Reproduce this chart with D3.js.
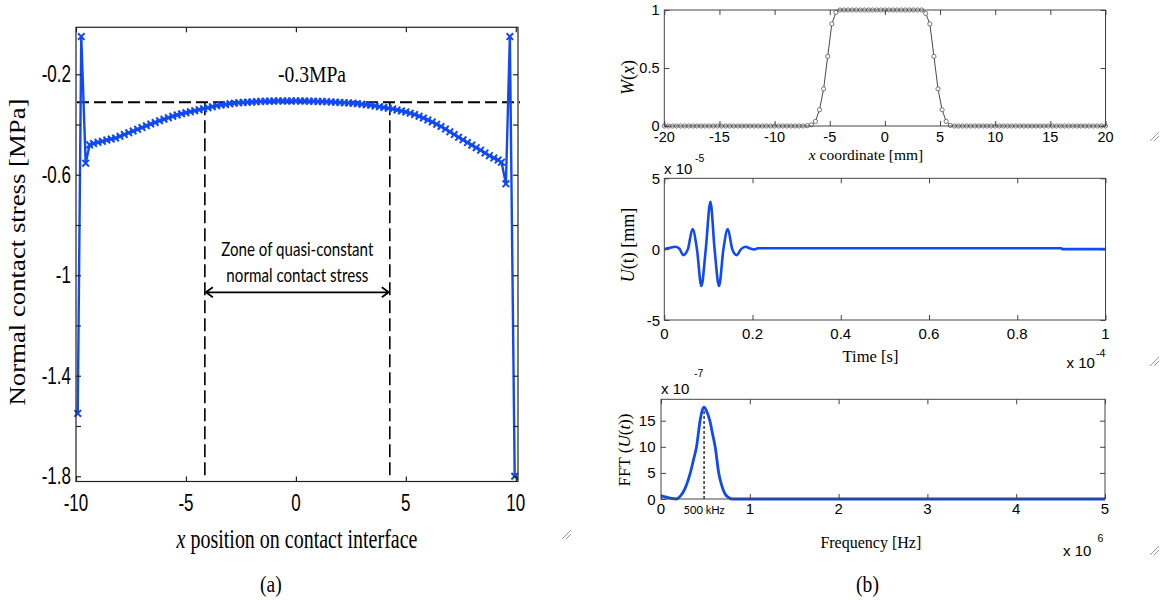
<!DOCTYPE html>
<html>
<head>
<meta charset="utf-8">
<script src="https://cdn.jsdelivr.net/npm/d3@7"></script>
<style>
  body { margin: 0; background: #fff; }
  svg { display: block; }
</style>
</head>
<body>
<svg id="fig" width="1163" height="600"></svg>
<script>
// ---------- (a) normal contact stress along the interface ----------
const stressX = [-9.92, -9.76, -9.56, -9.38,
  -9.2, -9.0, -8.8, -8.6, -8.4, -8.2, -8.0, -7.8, -7.6, -7.4, -7.2, -7.0, -6.8, -6.6, -6.4, -6.2,
  -6.0, -5.8, -5.6, -5.4, -5.2, -5.0, -4.8, -4.6, -4.4, -4.2, -4.0, -3.8, -3.6, -3.4, -3.2, -3.0,
  -2.8, -2.6, -2.4, -2.2, -2.0, -1.8, -1.6, -1.4, -1.2, -1.0, -0.8, -0.6, -0.4, -0.2, 0.0, 0.2,
  0.4, 0.6, 0.8, 1.0, 1.2, 1.4, 1.6, 1.8, 2.0, 2.2, 2.4, 2.6, 2.8, 3.0, 3.2, 3.4, 3.6, 3.8,
  4.0, 4.2, 4.4, 4.6, 4.8, 5.0, 5.2, 5.4, 5.6, 5.8, 6.0, 6.2, 6.4, 6.6, 6.8, 7.0, 7.2, 7.4,
  7.6, 7.8, 8.0, 8.2, 8.4, 8.6, 8.8, 9.0, 9.2, 9.35, 9.55, 9.73, 9.95];
const stressY = [-1.55, -0.05, -0.554, -0.481,
  -0.476, -0.471, -0.467, -0.462, -0.458, -0.454, -0.447, -0.440, -0.433, -0.426, -0.419, -0.412, -0.405, -0.398, -0.392, -0.385,
  -0.379, -0.373, -0.367, -0.362, -0.357, -0.353, -0.349, -0.345, -0.341, -0.337, -0.333, -0.329, -0.325, -0.322, -0.320, -0.317,
  -0.315, -0.313, -0.312, -0.311, -0.310, -0.309, -0.308, -0.307, -0.307, -0.306, -0.306, -0.306, -0.306, -0.306, -0.306, -0.306,
  -0.306, -0.307, -0.307, -0.308, -0.308, -0.309, -0.310, -0.311, -0.312, -0.313, -0.314, -0.315, -0.317, -0.319, -0.321, -0.323, -0.326, -0.329,
  -0.332, -0.335, -0.338, -0.342, -0.346, -0.350, -0.355, -0.360, -0.367, -0.374, -0.382, -0.390, -0.399, -0.408, -0.418, -0.429, -0.440, -0.451,
  -0.461, -0.472, -0.482, -0.492, -0.502, -0.513, -0.524, -0.533, -0.541, -0.550, -0.636, -0.05, -1.80];
const plateauStress = -0.311;
const zoneBounds = [-4.14, 4.27];
const stressXTicks = [-10, -5, 0, 5, 10];
const stressYTicks = [-1.8, -1.6, -1.4, -1.2, -1, -0.8, -0.6, -0.4, -0.2];
const stressYLabels = [-1.8, -1.4, -1, -0.6, -0.2];

// ---------- (b) top: window function W(x), 109 samples over [-20, 20] mm ----------
const windowSpan = [-20, 20];
const windowValues = [
  0, 0, 0, 0, 0, 0, 0, 0, 0, 0, 0, 0, 0, 0, 0, 0, 0, 0, 0, 0,
  0, 0, 0, 0, 0, 0, 0, 0, 0, 0, 0, 0, 0, 0, 0, 0.003, 0.01, 0.04, 0.14, 0.32,
  0.60, 0.88, 0.98, 1, 1, 1, 1, 1, 1, 1, 1, 1, 1, 1, 1, 1, 1, 1, 1, 1,
  1, 1, 1, 1, 0.97, 0.88, 0.60, 0.32, 0.14, 0.04, 0.005, 0, 0, 0, 0, 0, 0, 0, 0, 0,
  0, 0, 0, 0, 0, 0, 0, 0, 0, 0, 0, 0, 0, 0, 0, 0, 0, 0, 0, 0,
  0, 0, 0, 0, 0, 0, 0, 0, 0];
const windowXTicks = [-20, -15, -10, -5, 0, 5, 10, 15, 20];
const windowYTicks = [0, 0.5, 1];

// ---------- (b) middle: excitation signal U(t) (t in 1e-4 s, U in 1e-5 mm) ----------
const timeE4 = [0, 0.01, 0.026, 0.035, 0.043, 0.0535, 0.064, 0.074, 0.084, 0.094, 0.1045, 0.114,
  0.124, 0.134, 0.144, 0.154, 0.164, 0.174, 0.184, 0.195, 0.204, 0.212, 0.9, 0.902, 1.0];
const dispE5 = [0, 0.08, 0.17, 0, -0.42, 0, 1.42, 0, -2.6, 0, 3.35, 0,
  -2.6, 0, 1.42, 0, -0.42, 0, 0.17, 0.04, -0.02, 0.06, 0.06, 0, 0];
const timeTicks = [0, 0.2, 0.4, 0.6, 0.8, 1];
const dispTicks = [-5, 0, 5];

// ---------- (b) bottom: spectrum |FFT(U(t))| (f in 1e6 Hz, amplitude in 1e-7) ----------
const freqE6 = [0, 0.06, 0.12, 0.17, 0.22, 0.27, 0.33, 0.37, 0.40, 0.44, 0.465, 0.485, 0.51,
  0.55, 0.58, 0.61, 0.65, 0.68, 0.72, 0.76, 0.80, 1.0, 5.0];
const fftE7 = [0.6, 0.35, 0.1, 0.0, 0.6, 2.0, 5.0, 7.8, 10.0, 15.0, 17.0, 17.6, 17.0,
  15.0, 12.5, 10.0, 5.0, 2.8, 1.0, 0.3, 0.0, 0.0, 0.0];
const peakFreqE6 = 0.485;
const peakAmpE7 = 17.6;
const freqTicks = [0, 1, 2, 3, 4, 5];
const fftTicks = [0, 5, 10, 15];

// ---------- drawing helpers ----------
const svg = d3.select("#fig");
const SANS = "'Liberation Sans', Arial, sans-serif";
const SERIF = "'Liberation Serif', 'Times New Roman', serif";
const CAL = "Lato, 'Open Sans', sans-serif";
const BLUE = "#1149f5";

function txt(g, s, x, y, o = {}) {
  let tr = `translate(${x},${y})`;
  if (o.rot) tr += ` rotate(${o.rot})`;
  if (o.sx) tr += ` scale(${o.sx},1)`;
  const t = g.append("text")
    .attr("transform", tr)
    .attr("font-family", o.family || SANS)
    .attr("font-size", o.size || 15)
    .attr("text-anchor", o.anchor || "middle")
    .attr("dominant-baseline", o.base || "auto")
    .attr("fill", "#000");
  if (Array.isArray(s)) {
    s.forEach(p => t.append("tspan").attr("font-style", p[1] ? "italic" : "normal").text(p[0]));
  } else t.text(s);
  if (o.len) t.attr("textLength", o.len).attr("lengthAdjust", "spacingAndGlyphs");
  return t;
}

// MATLAB-style box with inward ticks on all four sides
function frame(box, xs, ys, o) {
  const g = svg.append("g");
  const tk = o.tick || 5;
  const add = (axis, tr) => g.append("g").attr("transform", tr).call(axis)
    .call(a => a.select(".domain").remove())
    .call(a => a.selectAll(".tick text").remove())
    .call(a => a.selectAll(".tick line").attr("stroke", o.color).attr("stroke-width", o.sw || 1));
  add(d3.axisBottom(xs).tickValues(o.xTicks).tickSize(-tk), `translate(0,${box.b})`);
  add(d3.axisTop(xs).tickValues(o.xTicks).tickSize(-tk), `translate(0,${box.t})`);
  add(d3.axisLeft(ys).tickValues(o.yTicks).tickSize(-tk), `translate(${box.l},0)`);
  add(d3.axisRight(ys).tickValues(o.yTicks).tickSize(-tk), `translate(${box.r},0)`);
  g.append("rect")
    .attr("x", box.l).attr("y", box.t)
    .attr("width", box.r - box.l).attr("height", box.b - box.t)
    .attr("fill", "none").attr("stroke", o.color).attr("stroke-width", o.sw || 1);
  const f = o.font;
  (o.xLabels || o.xTicks).forEach(v =>
    txt(g, String(v), xs(v), o.xLabelY, { ...f, base: "central" }));
  (o.yLabels || o.yTicks).forEach(v =>
    txt(g, String(v), o.yLabelX, ys(v), { ...f, anchor: "end", base: "central" }));
  return g;
}

function grip(cx, cy) {
  const g = svg.append("g").attr("stroke", "#9a9a9a").attr("stroke-width", 1);
  g.append("line").attr("x1", cx - 5).attr("y1", cy + 4).attr("x2", cx + 4).attr("y2", cy - 5);
  g.append("line").attr("x1", cx - 1).attr("y1", cy + 4).attr("x2", cx + 4).attr("y2", cy - 1);
}

// ================= panel (a) =================
{
  const box = { l: 76, r: 518, t: 27.3, b: 481.5 };
  const x = d3.scaleLinear().domain([-10, 10.1]).range([box.l, box.r]);
  const y = d3.scaleLinear().domain([-1.821, -0.013]).range([box.b, box.t]);

  const g = svg.append("g");
  // reference lines of the plateau zone
  g.append("line")
    .attr("x1", box.l + 1).attr("x2", box.r + 2)
    .attr("y1", y(plateauStress)).attr("y2", y(plateauStress))
    .attr("stroke", "#000").attr("stroke-width", 2).attr("stroke-dasharray", "12,5");
  zoneBounds.forEach(v => g.append("line")
    .attr("x1", x(v)).attr("x2", x(v))
    .attr("y1", y(plateauStress)).attr("y2", box.b - 3)
    .attr("stroke", "#000").attr("stroke-width", 1.6).attr("stroke-dasharray", "13,5"));

  // stress curve with x markers
  const pts = stressX.map((v, i) => [v, stressY[i]]);
  g.append("path")
    .attr("d", d3.line().x(d => x(d[0])).y(d => y(d[1]))(pts))
    .attr("fill", "none").attr("stroke", BLUE).attr("stroke-width", 2.4);
  const m = 3.3;
  g.append("g").selectAll("path").data(pts).join("path")
    .attr("d", d => {
      const px = x(d[0]), py = y(d[1]);
      return `M${px - m},${py - m}L${px + m},${py + m}M${px - m},${py + m}L${px + m},${py - m}`;
    })
    .attr("stroke", BLUE).attr("stroke-width", 2);

  frame(box, x, y, {
    xTicks: stressXTicks, yTicks: stressYTicks, yLabels: stressYLabels,
    color: "#222", sw: 1.2, tick: 5,
    font: { family: SANS, size: 23, sx: 0.74 },
    xLabelY: 503.5, yLabelX: 71
  });

  // double arrow across the zone
  const ay = 292.3, x0 = x(zoneBounds[0]), x1 = x(zoneBounds[1]);
  g.append("path")
    .attr("d", `M${x0},${ay}H${x1}M${x0 + 8},${ay - 5}L${x0 + 1},${ay}L${x0 + 8},${ay + 5}` +
               `M${x1 - 8},${ay - 5}L${x1 - 1},${ay}L${x1 - 8},${ay + 5}`)
    .attr("fill", "none").attr("stroke", "#000").attr("stroke-width", 1.8);

  const zc = (x0 + x1) / 2;
  txt(g, "Zone of quasi-constant", zc, 256, { family: CAL, size: 19, len: 152 });
  txt(g, "normal contact stress", zc, 282, { family: CAL, size: 19, len: 142 });
  txt(g, "-0.3MPa", 278, 81.7, { family: SERIF, size: 22.5, anchor: "start", len: 68 });

  txt(g, "Normal contact stress [MPa]", 25, 252, { family: SERIF, size: 23, rot: -90, len: 307 });
  txt(g, [["x", true], [" position on contact interface", false]], 297, 548,
      { family: SERIF, size: 28, sx: 0.714 });
  txt(g, "(a)", 270.8, 592, { family: SERIF, size: 23, sx: 0.85 });
  grip(567, 535);
}

// ================= panel (b) top: W(x) =================
{
  const box = { l: 664.3, r: 1105.5, t: 10, b: 126 };
  const x = d3.scaleLinear().domain(windowSpan).range([box.l, box.r]);
  const y = d3.scaleLinear().domain([0, 1]).range([box.b, box.t]);
  const idx = d3.scaleLinear().domain([0, windowValues.length - 1]).range(windowSpan);
  const g = svg.append("g");
  const pts = windowValues.map((v, i) => [idx(i), v]);
  g.append("path")
    .attr("d", d3.line().x(d => x(d[0])).y(d => y(d[1]))(pts))
    .attr("fill", "none").attr("stroke", "#333").attr("stroke-width", 0.9);
  g.append("g").selectAll("circle").data(pts).join("circle")
    .attr("cx", d => x(d[0])).attr("cy", d => y(d[1])).attr("r", 2.1)
    .attr("fill", "#fff").attr("stroke", "#555").attr("stroke-width", 0.8);

  frame(box, x, y, {
    xTicks: windowXTicks, yTicks: windowYTicks,
    color: "#444", sw: 1, tick: 5,
    font: { family: SANS, size: 14.5 },
    xLabelY: 137, yLabelX: 659.5
  });
  txt(g, [["W", true], ["(", false], ["x", true], [")", false]], 634, 77.5,
      { family: SERIF, size: 18, rot: -90 });
  txt(g, [["x", true], [" coordinate [mm]", false]], 866, 160, { family: SERIF, size: 15.5 });
  grip(1155, 137);
}

// ================= panel (b) middle: U(t) =================
{
  const box = { l: 664.3, r: 1105.5, t: 178.3, b: 320 };
  const x = d3.scaleLinear().domain([0, 1]).range([box.l, box.r]);
  const y = d3.scaleLinear().domain([-5, 5]).range([box.b, box.t]);
  const g = svg.append("g");
  const pts = timeE4.map((v, i) => [v, dispE5[i]]);
  g.append("path")
    .attr("d", d3.line().x(d => x(d[0])).y(d => y(d[1])).curve(d3.curveMonotoneX)(pts))
    .attr("fill", "none").attr("stroke", BLUE).attr("stroke-width", 2.6);

  frame(box, x, y, {
    xTicks: timeTicks, yTicks: dispTicks,
    color: "#444", sw: 1, tick: 5,
    font: { family: SANS, size: 15 },
    xLabelY: 333.5, yLabelX: 660
  });
  txt(g, "x 10", 664, 168, { family: SANS, size: 15, anchor: "start", base: "central" });
  txt(g, "-5", 695, 158, { family: SANS, size: 10.5, anchor: "start", base: "central" });
  txt(g, "x 10", 1066.5, 362.5, { family: SANS, size: 15, anchor: "start", base: "central" });
  txt(g, "-4", 1096, 352.5, { family: SANS, size: 10.5, anchor: "start", base: "central" });
  txt(g, [["U", true], ["(t) [mm]", false]], 634, 245, { family: SERIF, size: 18, rot: -90 });
  txt(g, "Time [s]", 870.5, 361.5, { family: SERIF, size: 16.5 });
  grip(1155, 362);
}

// ================= panel (b) bottom: spectrum =================
{
  const box = { l: 661, r: 1105, t: 399.3, b: 499 };
  const x = d3.scaleLinear().domain([0, 5]).range([box.l, box.r]);
  const y = d3.scaleLinear().domain([0, 19.1]).range([box.b, box.t]);
  const g = svg.append("g");
  const pts = freqE6.map((v, i) => [v, fftE7[i]]);
  g.append("line")
    .attr("x1", x(peakFreqE6)).attr("x2", x(peakFreqE6))
    .attr("y1", y(0)).attr("y2", y(peakAmpE7))
    .attr("stroke", "#000").attr("stroke-width", 1.2).attr("stroke-dasharray", "3,2");
  g.append("path")
    .attr("d", d3.line().x(d => x(d[0])).y(d => y(d[1])).curve(d3.curveMonotoneX)(pts))
    .attr("fill", "none").attr("stroke", BLUE).attr("stroke-width", 2.8);

  frame(box, x, y, {
    xTicks: freqTicks, yTicks: fftTicks,
    color: "#444", sw: 1, tick: 5,
    font: { family: SANS, size: 15 },
    xLabelY: 508.5, yLabelX: 655.5
  });
  txt(g, "500 kHz", x(peakFreqE6), 509.5, { family: CAL, size: 11.5, len: 41, base: "central" });
  txt(g, "x 10", 661, 388, { family: SANS, size: 15, anchor: "start", base: "central" });
  txt(g, "-7", 694, 373, { family: SANS, size: 10.5, anchor: "start", base: "central" });
  txt(g, "x 10", 1063, 550, { family: SANS, size: 15, anchor: "start", base: "central" });
  txt(g, "6", 1097.5, 538, { family: SANS, size: 10.5, anchor: "start", base: "central" });
  txt(g, [["FFT (", false], ["U", true], ["(", false], ["t", true], ["))", false]], 630, 450,
      { family: SERIF, size: 17, rot: -90 });
  txt(g, "Frequency [Hz]", 870.8, 548, { family: SERIF, size: 16 });
  txt(g, "(b)", 867.5, 592, { family: SERIF, size: 23, sx: 0.85 });
  grip(1155, 551);
}
</script>
</body>
</html>
